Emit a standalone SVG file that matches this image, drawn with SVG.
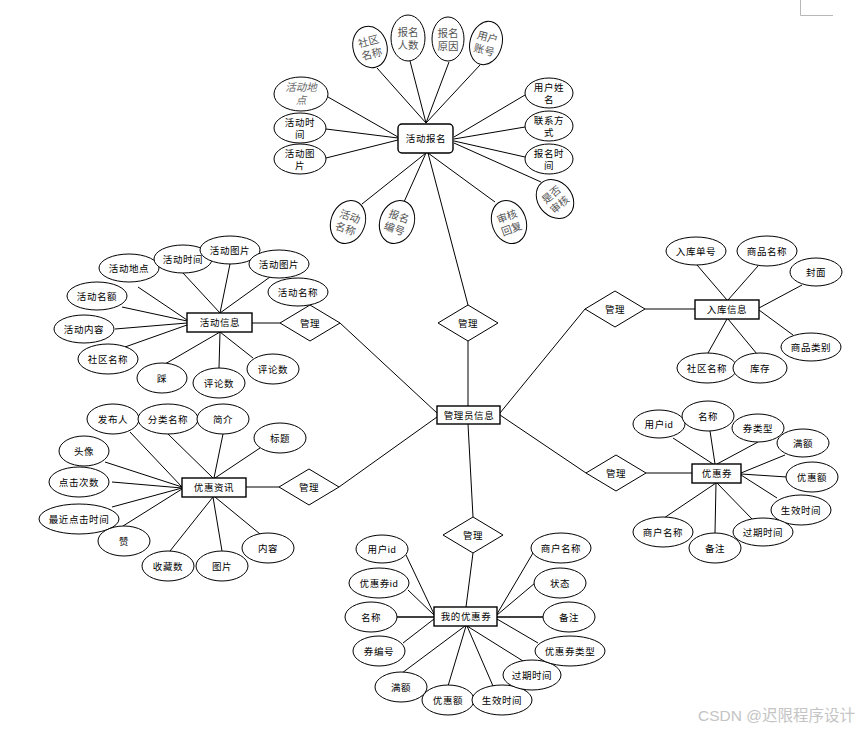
<svg xmlns="http://www.w3.org/2000/svg" width="864" height="730" viewBox="0 0 864 730">
<style>
.e{fill:#fff;stroke:#000;stroke-width:1}
.r{fill:#fff;stroke:#000;stroke-width:1.4}
.d{fill:#fff;stroke:#000;stroke-width:1}
.c line{stroke:#000;stroke-width:1}
.t{font-family:"Liberation Sans","Noto Sans CJK SC",sans-serif;font-size:9.5px;fill:#000;text-anchor:middle;dominant-baseline:central;letter-spacing:0.6px}
.g{font-family:"Liberation Serif","Noto Sans CJK SC",serif;font-size:10.5px;fill:#555;text-anchor:middle;dominant-baseline:central}
.i{font-style:italic;fill:#666}
</style>
<rect width="864" height="730" fill="#fff"/>
<path d="M800.5 0V15.5H833" fill="none" stroke="#b8b8b8" stroke-width="1"/>
<g id="connectors" class="c">
<line x1="377" y1="68" x2="426" y2="123"/>
<line x1="410" y1="61" x2="426" y2="123"/>
<line x1="449" y1="62" x2="426" y2="123"/>
<line x1="480" y1="65" x2="426" y2="123"/>
<line x1="328" y1="97" x2="398" y2="137"/>
<line x1="326" y1="129" x2="398" y2="138"/>
<line x1="326" y1="158" x2="398" y2="140"/>
<line x1="525" y1="95" x2="454" y2="137"/>
<line x1="525" y1="127" x2="454" y2="139"/>
<line x1="525" y1="157" x2="454" y2="141"/>
<line x1="541" y1="182" x2="454" y2="143"/>
<line x1="362" y1="204" x2="426" y2="153"/>
<line x1="404" y1="202" x2="426" y2="153"/>
<line x1="495" y1="202" x2="428" y2="153"/>
<line x1="428" y1="153" x2="468" y2="305"/>
<line x1="468" y1="341" x2="468" y2="406"/>
<line x1="340" y1="323" x2="437" y2="413"/>
<line x1="252" y1="323" x2="280" y2="323"/>
<line x1="138" y1="287" x2="187" y2="320"/>
<line x1="122" y1="307" x2="187" y2="321"/>
<line x1="115" y1="329" x2="187" y2="323"/>
<line x1="125" y1="347" x2="187" y2="325"/>
<line x1="183" y1="273" x2="220" y2="313"/>
<line x1="230" y1="264" x2="220" y2="313"/>
<line x1="270" y1="277" x2="220" y2="313"/>
<line x1="165" y1="364" x2="220" y2="332"/>
<line x1="219" y1="368" x2="220" y2="332"/>
<line x1="253" y1="358" x2="220" y2="332"/>
<line x1="500" y1="413" x2="585" y2="309"/>
<line x1="645" y1="309" x2="695" y2="309"/>
<line x1="697" y1="265" x2="727" y2="300"/>
<line x1="758" y1="266" x2="728" y2="300"/>
<line x1="802" y1="285" x2="759" y2="308"/>
<line x1="793" y1="335" x2="759" y2="310"/>
<line x1="708" y1="353" x2="727" y2="319"/>
<line x1="757" y1="354" x2="728" y2="319"/>
<line x1="339" y1="487" x2="437" y2="417"/>
<line x1="246" y1="487" x2="279" y2="487"/>
<line x1="130" y1="432" x2="182" y2="487"/>
<line x1="168" y1="434" x2="213" y2="478"/>
<line x1="223" y1="434" x2="214" y2="478"/>
<line x1="260" y1="448" x2="215" y2="478"/>
<line x1="105" y1="462" x2="182" y2="487"/>
<line x1="112" y1="482" x2="182" y2="488"/>
<line x1="112" y1="507" x2="182" y2="488"/>
<line x1="123" y1="526" x2="182" y2="489"/>
<line x1="170" y1="551" x2="213" y2="497"/>
<line x1="222" y1="551" x2="213" y2="497"/>
<line x1="260" y1="534" x2="215" y2="497"/>
<line x1="500" y1="415" x2="586" y2="473"/>
<line x1="646" y1="473" x2="692" y2="473"/>
<line x1="673" y1="438" x2="713" y2="464"/>
<line x1="710" y1="431" x2="715" y2="464"/>
<line x1="758" y1="442" x2="717" y2="464"/>
<line x1="785" y1="455" x2="741" y2="473"/>
<line x1="787" y1="477" x2="741" y2="474"/>
<line x1="777" y1="498" x2="741" y2="475"/>
<line x1="753" y1="520" x2="717" y2="483"/>
<line x1="715" y1="533" x2="716" y2="483"/>
<line x1="664" y1="518" x2="716" y2="483"/>
<line x1="468" y1="424" x2="473" y2="517"/>
<line x1="473" y1="553" x2="466" y2="607"/>
<line x1="406" y1="555" x2="434" y2="614"/>
<line x1="408" y1="590" x2="434" y2="615"/>
<line x1="397" y1="617" x2="434" y2="617" style="stroke-width:1.4"/>
<line x1="403" y1="643" x2="434" y2="619"/>
<line x1="533" y1="553" x2="497" y2="614"/>
<line x1="535" y1="583" x2="497" y2="615"/>
<line x1="543" y1="617" x2="497" y2="617" style="stroke-width:1.4"/>
<line x1="538" y1="643" x2="497" y2="619"/>
<line x1="402" y1="673" x2="465" y2="626"/>
<line x1="448" y1="686" x2="466" y2="626"/>
<line x1="493" y1="686" x2="467" y2="626"/>
<line x1="523" y1="661" x2="467" y2="626"/>
</g>

<!-- 活动报名 -->
<g id="n-huodongbaoming"><rect class="r" x="398" y="124" width="55" height="29" rx="4"/><text class="t" x="426" y="138.5">活动报名</text></g>
<g id="a-shequmingcheng1" transform="translate(370,47) rotate(-15)"><ellipse class="e" rx="17" ry="21"/><text class="g"><tspan x="0" y="-6">社区</tspan><tspan x="0" y="7">名称</tspan></text></g>
<g id="a-baomingrenshu" transform="translate(408,38)"><ellipse class="e" rx="17" ry="23"/><text class="g"><tspan x="0" y="-6">报名</tspan><tspan x="0" y="7">人数</tspan></text></g>
<g id="a-baomingyuanyin" transform="translate(448,39)"><ellipse class="e" rx="16" ry="22"/><text class="g"><tspan x="0" y="-6">报名</tspan><tspan x="0" y="7">原因</tspan></text></g>
<g id="a-yonghuzhanghao" transform="translate(486,43) rotate(15)"><ellipse class="e" rx="16" ry="22"/><text class="g"><tspan x="0" y="-6">用户</tspan><tspan x="0" y="7">账号</tspan></text></g>
<g id="a-huodongdidian1"><ellipse class="e" cx="301" cy="94" rx="27" ry="17"/><text class="g i"><tspan x="301" y="87">活动地</tspan><tspan x="301" y="100">点</tspan></text></g>
<g id="a-huodongshijian1"><ellipse class="e" cx="300" cy="128" rx="26" ry="15"/><text class="t"><tspan x="300" y="122">活动时</tspan><tspan x="300" y="134">间</tspan></text></g>
<g id="a-huodongtupian1"><ellipse class="e" cx="300" cy="159" rx="26" ry="15"/><text class="t"><tspan x="300" y="153">活动图</tspan><tspan x="300" y="165">片</tspan></text></g>
<g id="a-yonghuxingming"><ellipse class="e" cx="549" cy="93" rx="24" ry="15"/><text class="t"><tspan x="549" y="87">用户姓</tspan><tspan x="549" y="99">名</tspan></text></g>
<g id="a-lianxifangshi"><ellipse class="e" cx="549" cy="126" rx="24" ry="15"/><text class="t"><tspan x="549" y="120">联系方</tspan><tspan x="549" y="132">式</tspan></text></g>
<g id="a-baomingshijian"><ellipse class="e" cx="549" cy="159" rx="24" ry="15"/><text class="t"><tspan x="549" y="153">报名时</tspan><tspan x="549" y="165">间</tspan></text></g>
<g id="a-shifoushenhe" transform="translate(555,199) rotate(-40)"><ellipse class="e" rx="17" ry="21"/><text class="g"><tspan x="0" y="-6">是否</tspan><tspan x="0" y="7">审核</tspan></text></g>
<g id="a-huodongmingcheng1" transform="translate(348,222) rotate(20)"><ellipse class="e" rx="17" ry="22"/><text class="g"><tspan x="0" y="-6">活动</tspan><tspan x="0" y="7">名称</tspan></text></g>
<g id="a-baomingbianhao" transform="translate(397,222) rotate(20)"><ellipse class="e" rx="17" ry="22"/><text class="g"><tspan x="0" y="-6">报名</tspan><tspan x="0" y="7">编号</tspan></text></g>
<g id="a-shenhehuifu" transform="translate(509,222) rotate(-20)"><ellipse class="e" rx="17" ry="22"/><text class="g"><tspan x="0" y="-6">审核</tspan><tspan x="0" y="7">回复</tspan></text></g>

<!-- 管理员信息 -->
<g id="r-guanli-top"><polygon class="d" points="438,323 468,305 498,323 468,341"/><text class="t" x="468" y="323">管理</text></g>
<g id="n-guanliyuanxinxi"><rect class="r" x="437" y="406" width="63" height="18"/><text class="t" x="469" y="415">管理员信息</text></g>

<!-- 活动信息 -->
<g id="r-guanli-hd"><polygon class="d" points="280,323 310,305 340,323 310,341"/><text class="t" x="310" y="323">管理</text></g>
<g id="n-huodongxinxi"><rect class="r" x="187" y="313" width="65" height="19"/><text class="t" x="220" y="322.5">活动信息</text></g>
<g id="a-hd-didian"><ellipse class="e" cx="129" cy="268" rx="30" ry="14"/><text class="t" x="129" y="268">活动地点</text></g>
<g id="a-hd-shijian"><ellipse class="e" cx="183" cy="259" rx="29" ry="14"/><text class="t" x="183" y="259">活动时间</text></g>
<g id="a-hd-tupian1"><ellipse class="e" cx="230" cy="250" rx="30" ry="14"/><text class="t" x="230" y="250">活动图片</text></g>
<g id="a-hd-tupian2"><ellipse class="e" cx="279" cy="264" rx="30" ry="14"/><text class="t" x="279" y="264">活动图片</text></g>
<g id="a-hd-mingcheng"><ellipse class="e" cx="298" cy="292" rx="30" ry="14"/><text class="t" x="298" y="292">活动名称</text></g>
<g id="a-hd-minge"><ellipse class="e" cx="97" cy="296" rx="30" ry="14"/><text class="t" x="97" y="296">活动名额</text></g>
<g id="a-hd-neirong"><ellipse class="e" cx="84" cy="329" rx="30" ry="14"/><text class="t" x="84" y="329">活动内容</text></g>
<g id="a-hd-shequ"><ellipse class="e" cx="108" cy="359" rx="30" ry="15"/><text class="t" x="108" y="359">社区名称</text></g>
<g id="a-hd-cai"><ellipse class="e" cx="162" cy="378" rx="25" ry="15"/><text class="t" x="162" y="378">踩</text></g>
<g id="a-hd-pinglun1"><ellipse class="e" cx="219" cy="383" rx="26" ry="15"/><text class="t" x="219" y="383">评论数</text></g>
<g id="a-hd-pinglun2"><ellipse class="e" cx="273" cy="369" rx="26" ry="15"/><text class="t" x="273" y="369">评论数</text></g>

<!-- 入库信息 -->
<g id="r-guanli-rk"><polygon class="d" points="585,309 615,291 645,309 615,327"/><text class="t" x="615" y="309">管理</text></g>
<g id="n-rukuxinxi"><rect class="r" x="695" y="300" width="64" height="19"/><text class="t" x="727" y="309.5">入库信息</text></g>
<g id="a-rk-danhao"><ellipse class="e" cx="696" cy="251" rx="30" ry="14"/><text class="t" x="696" y="251">入库单号</text></g>
<g id="a-rk-shangpin"><ellipse class="e" cx="767" cy="251" rx="30" ry="15"/><text class="t" x="767" y="251">商品名称</text></g>
<g id="a-rk-fengmian"><ellipse class="e" cx="816" cy="272" rx="26" ry="14"/><text class="t" x="816" y="272">封面</text></g>
<g id="a-rk-leibie"><ellipse class="e" cx="811" cy="347" rx="30" ry="14"/><text class="t" x="811" y="347">商品类别</text></g>
<g id="a-rk-shequ"><ellipse class="e" cx="707" cy="368" rx="30" ry="15"/><text class="t" x="707" y="368">社区名称</text></g>
<g id="a-rk-kucun"><ellipse class="e" cx="760" cy="368" rx="27" ry="15"/><text class="t" x="760" y="368">库存</text></g>

<!-- 优惠资讯 -->
<g id="r-guanli-zx"><polygon class="d" points="279,487 309,469 339,487 309,505"/><text class="t" x="309" y="487">管理</text></g>
<g id="n-youhuizixun"><rect class="r" x="182" y="478" width="64" height="19"/><text class="t" x="214" y="487.5">优惠资讯</text></g>
<g id="a-zx-fabuTen"><ellipse class="e" cx="113" cy="419" rx="26" ry="15"/><text class="t" x="113" y="419">发布人</text></g>
<g id="a-zx-fenlei"><ellipse class="e" cx="168" cy="419" rx="30" ry="15"/><text class="t" x="168" y="419">分类名称</text></g>
<g id="a-zx-jianjie"><ellipse class="e" cx="223" cy="419" rx="26" ry="15"/><text class="t" x="223" y="419">简介</text></g>
<g id="a-zx-biaoti"><ellipse class="e" cx="280" cy="438" rx="26" ry="15"/><text class="t" x="280" y="438">标题</text></g>
<g id="a-zx-touxiang"><ellipse class="e" cx="84" cy="451" rx="25" ry="15"/><text class="t" x="84" y="451">头像</text></g>
<g id="a-zx-dianji"><ellipse class="e" cx="79" cy="482" rx="30" ry="15"/><text class="t" x="79" y="482">点击次数</text></g>
<g id="a-zx-zuijin"><ellipse class="e" cx="79" cy="519" rx="40" ry="15"/><text class="t" x="79" y="519">最近点击时间</text></g>
<g id="a-zx-zan"><ellipse class="e" cx="124" cy="541" rx="26" ry="15"/><text class="t" x="124" y="541">赞</text></g>
<g id="a-zx-shoucang"><ellipse class="e" cx="168" cy="566" rx="26" ry="15"/><text class="t" x="168" y="566">收藏数</text></g>
<g id="a-zx-tupian"><ellipse class="e" cx="222" cy="566" rx="26" ry="15"/><text class="t" x="222" y="566">图片</text></g>
<g id="a-zx-neirong"><ellipse class="e" cx="268" cy="548" rx="26" ry="15"/><text class="t" x="268" y="548">内容</text></g>

<!-- 优惠券 -->
<g id="r-guanli-yhq"><polygon class="d" points="586,473 616,455 646,473 616,491"/><text class="t" x="616" y="473">管理</text></g>
<g id="n-youhuiquan"><rect class="r" x="692" y="464" width="49" height="19"/><text class="t" x="717" y="473.5">优惠券</text></g>
<g id="a-yhq-yonghuid"><ellipse class="e" cx="659" cy="424" rx="26" ry="14"/><text class="t" x="659" y="424">用户id</text></g>
<g id="a-yhq-mingcheng"><ellipse class="e" cx="708" cy="416" rx="26" ry="15"/><text class="t" x="708" y="416">名称</text></g>
<g id="a-yhq-quanleixing"><ellipse class="e" cx="758" cy="428" rx="26" ry="14"/><text class="t" x="758" y="428">券类型</text></g>
<g id="a-yhq-mane"><ellipse class="e" cx="803" cy="443" rx="26" ry="14"/><text class="t" x="803" y="443">满额</text></g>
<g id="a-yhq-youhuie"><ellipse class="e" cx="812" cy="477" rx="26" ry="15"/><text class="t" x="812" y="477">优惠额</text></g>
<g id="a-yhq-shengxiao"><ellipse class="e" cx="801" cy="510" rx="30" ry="15"/><text class="t" x="801" y="510">生效时间</text></g>
<g id="a-yhq-guoqi"><ellipse class="e" cx="763" cy="532" rx="30" ry="14"/><text class="t" x="763" y="532">过期时间</text></g>
<g id="a-yhq-shanghu"><ellipse class="e" cx="663" cy="532" rx="30" ry="15"/><text class="t" x="663" y="532">商户名称</text></g>
<g id="a-yhq-beizhu"><ellipse class="e" cx="715" cy="548" rx="26" ry="15"/><text class="t" x="715" y="548">备注</text></g>

<!-- 我的优惠券 -->
<g id="r-guanli-wd"><polygon class="d" points="443,535 473,517 503,535 473,553"/><text class="t" x="473" y="535">管理</text></g>
<g id="n-wodeyouhuiquan"><rect class="r" x="434" y="607" width="63" height="19"/><text class="t" x="466" y="616.5">我的优惠券</text></g>
<g id="a-wd-yonghuid"><ellipse class="e" cx="382" cy="549" rx="26" ry="14"/><text class="t" x="382" y="549">用户id</text></g>
<g id="a-wd-youhuiquanid"><ellipse class="e" cx="379" cy="583" rx="30" ry="15"/><text class="t" x="379" y="583">优惠券id</text></g>
<g id="a-wd-mingcheng"><ellipse class="e" cx="371" cy="617" rx="26" ry="15"/><text class="t" x="371" y="617">名称</text></g>
<g id="a-wd-quanbianhao"><ellipse class="e" cx="379" cy="651" rx="26" ry="15"/><text class="t" x="379" y="651">券编号</text></g>
<g id="a-wd-mane"><ellipse class="e" cx="401" cy="687" rx="26" ry="15"/><text class="t" x="401" y="687">满额</text></g>
<g id="a-wd-youhuie"><ellipse class="e" cx="448" cy="700" rx="26" ry="15"/><text class="t" x="448" y="700">优惠额</text></g>
<g id="a-wd-shengxiao"><ellipse class="e" cx="502" cy="700" rx="30" ry="15"/><text class="t" x="502" y="700">生效时间</text></g>
<g id="a-wd-guoqi"><ellipse class="e" cx="532" cy="675" rx="29" ry="15"/><text class="t" x="532" y="675">过期时间</text></g>
<g id="a-wd-leixing"><ellipse class="e" cx="570" cy="651" rx="35" ry="15"/><text class="t" x="570" y="651">优惠券类型</text></g>
<g id="a-wd-beizhu"><ellipse class="e" cx="569" cy="617" rx="26" ry="15"/><text class="t" x="569" y="617">备注</text></g>
<g id="a-wd-zhuangtai"><ellipse class="e" cx="560" cy="583" rx="26" ry="15"/><text class="t" x="560" y="583">状态</text></g>
<g id="a-wd-shanghu"><ellipse class="e" cx="561" cy="548" rx="30" ry="15"/><text class="t" x="561" y="548">商户名称</text></g>

<text x="698" y="715" style="font-family:'Liberation Sans','Noto Sans CJK SC',sans-serif;font-size:15.5px;fill:#c4c4c4;dominant-baseline:central">CSDN @迟限程序设计</text>
</svg>
